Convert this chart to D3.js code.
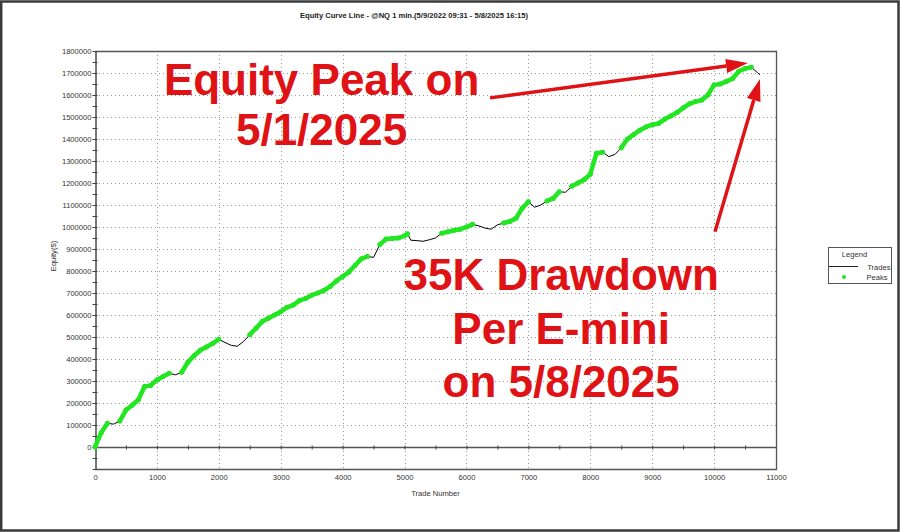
<!DOCTYPE html>
<html>
<head>
<meta charset="utf-8">
<script src="https://cdn.jsdelivr.net/npm/d3@7"></script>
<style>
  body { margin: 0; background: #fff; }
  text { font-family: "Liberation Sans", Arial, sans-serif; }
</style>
</head>
<body>
<script>
// equity curve (trade number, equity $)
var tradeNum = [0, 100, 200, 300, 400, 500, 600, 700, 800, 900,
  1000, 1100, 1200, 1300, 1400, 1500, 1600, 1700, 1800, 1900,
  2000, 2100, 2200, 2300, 2400, 2500, 2600, 2700, 2800, 2900,
  3000, 3100, 3200, 3300, 3400, 3500, 3600, 3700, 3800, 3900,
  4000, 4100, 4200, 4300, 4400, 4500, 4600, 4700, 4800, 4900,
  5000, 5050, 5100, 5200, 5300, 5400, 5500, 5600, 5700, 5800, 5900,
  6000, 6100, 6200, 6300, 6400, 6500, 6600, 6700, 6800, 6900,
  7000, 7100, 7200, 7300, 7400, 7500, 7600, 7700, 7800, 7900,
  8000, 8100, 8200, 8300, 8400, 8500, 8600, 8700, 8800, 8900,
  9000, 9100, 9200, 9300, 9400, 9500, 9600, 9700, 9800, 9900,
  10000, 10100, 10200, 10300, 10400, 10500, 10600, 10700, 10740];
var equity = [0, 65000, 108000, 104000, 118000, 168000, 190000, 215000, 275000, 280000,
  305000, 320000, 335000, 328000, 340000, 385000, 415000, 440000, 455000, 470000,
  490000, 475000, 462000, 458000, 480000, 510000, 540000, 570000, 585000, 600000,
  615000, 635000, 645000, 665000, 675000, 690000, 700000, 712000, 730000, 755000,
  775000, 795000, 825000, 855000, 866000, 862000, 920000, 945000, 948000, 950000,
  960000, 969000, 940000, 938000, 935000, 942000, 950000, 972000, 978000, 985000, 990000,
  1000000, 1012000, 1005000, 995000, 990000, 1010000, 1018000, 1025000, 1040000, 1085000,
  1115000, 1090000, 1100000, 1118000, 1130000, 1160000, 1158000, 1185000, 1200000, 1215000,
  1240000, 1335000, 1340000, 1320000, 1330000, 1360000, 1400000, 1420000, 1440000, 1455000,
  1465000, 1470000, 1490000, 1505000, 1520000, 1541000, 1560000, 1570000, 1577000, 1600000,
  1646000, 1650000, 1662000, 1675000, 1708000, 1720000, 1726000, 1702000, 1691000];

var xTicks = [0, 1000, 2000, 3000, 4000, 5000, 6000, 7000, 8000, 9000, 10000, 11000];
var yTicks = [0, 100000, 200000, 300000, 400000, 500000, 600000, 700000, 800000, 900000,
  1000000, 1100000, 1200000, 1300000, 1400000, 1500000, 1600000, 1700000, 1800000];

var titleText = "Equity Curve Line - @NQ 1 min.(5/9/2022 09:31 - 5/8/2025 16:15)";
var peakNote = ["Equity Peak on", "5/1/2025"];
var ddNote = ["35K Drawdown", "Per E-mini", "on 5/8/2025"];

var W = 900, H = 532;
var m = {left: 95, right: 776, top: 51, bottom: 469};
var red = "#df1216", green = "#22e622";

var x = d3.scaleLinear().domain([0, 11000]).range([m.left, m.right]);
var y = d3.scaleLinear().domain([-100000, 1800000]).range([m.bottom, m.top]);

var svg = d3.select("body").append("svg")
  .attr("width", W)
  .attr("height", H);

svg.append("rect")
  .attr("x", 1.2).attr("y", 1.5)
  .attr("width", W - 2.7).attr("height", H - 3)
  .attr("fill", "#fff")
  .attr("stroke", "#3a3a3a")
  .attr("stroke-width", 2.5);

svg.append("text")
  .attr("x", 414).attr("y", 18)
  .attr("text-anchor", "middle")
  .attr("font-size", 7.6)
  .attr("font-weight", "bold")
  .attr("fill", "#222")
  .text(titleText);

// dotted grid
var grid = svg.append("g")
  .attr("stroke", "#9a9a9a")
  .attr("stroke-dasharray", "1,3")
  .attr("stroke-width", 1);
grid.selectAll(".gy").data(yTicks.slice(1, -1)).enter().append("line")
  .attr("x1", m.left).attr("x2", m.right)
  .attr("y1", function(d) { return Math.round(y(d)) + 0.5; })
  .attr("y2", function(d) { return Math.round(y(d)) + 0.5; });
grid.selectAll(".gx").data(xTicks.slice(1, -1)).enter().append("line")
  .attr("y1", m.top).attr("y2", m.bottom)
  .attr("x1", function(d) { return Math.round(x(d)) + 0.5; })
  .attr("x2", function(d) { return Math.round(x(d)) + 0.5; });

// frame
svg.append("path")
  .attr("d", "M" + m.left + "," + (m.top + 0.5) + "H" + (m.right + 0.5) + "V" + (m.bottom + 0.5) + "H" + m.left)
  .attr("fill", "none")
  .attr("stroke", "#555")
  .attr("stroke-width", 1.3);

// zero line
svg.append("line")
  .attr("x1", m.left).attr("x2", m.right)
  .attr("y1", Math.round(y(0)) + 0.5).attr("y2", Math.round(y(0)) + 0.5)
  .attr("stroke", "#555").attr("stroke-width", 1.3);

// left axis
var yAxis = d3.axisLeft(y)
  .tickValues(d3.range(-100000, 1800001, 50000))
  .tickSizeInner(3).tickSizeOuter(0)
  .tickFormat(function(d) { return yTicks.indexOf(d) >= 0 ? d3.format("d")(d) : ""; });
var gy = svg.append("g")
  .attr("transform", "translate(" + (m.left + 0.5) + ",0)")
  .call(yAxis);
gy.select(".domain").attr("stroke", "#555").attr("stroke-width", 1.6);
gy.selectAll(".tick line").attr("stroke", "#444").attr("x2", -3).attr("x1", 2);
gy.selectAll(".tick text")
  .attr("font-family", "Liberation Sans, Arial, sans-serif")
  .attr("font-size", 7.6).attr("fill", "#333").attr("x", -4);

// minor x ticks on the zero line
var gx0 = svg.append("g")
  .attr("transform", "translate(0," + (Math.round(y(0)) + 0.5) + ")")
  .call(d3.axisBottom(x).tickValues(d3.range(500, 10501, 500)).tickSize(0).tickFormat(""));
gx0.select(".domain").remove();
gx0.selectAll(".tick line").attr("y1", -2).attr("y2", 2).attr("stroke", "#444");

// x labels
var gx = svg.append("g")
  .attr("transform", "translate(0," + m.bottom + ")")
  .call(d3.axisBottom(x).tickValues(xTicks).tickSize(0).tickPadding(6).tickFormat(d3.format("d")));
gx.select(".domain").remove();
gx.selectAll(".tick text")
  .attr("font-family", "Liberation Sans, Arial, sans-serif")
  .attr("font-size", 7.6).attr("fill", "#333");

svg.append("text")
  .attr("x", (m.left + m.right) / 2).attr("y", 496)
  .attr("text-anchor", "middle")
  .attr("font-size", 7.6).attr("fill", "#333")
  .text("Trade Number");

svg.append("text")
  .attr("transform", "translate(56," + ((m.top + m.bottom) / 2 - 4) + ") rotate(-90)")
  .attr("text-anchor", "middle")
  .attr("font-size", 7.6).attr("fill", "#333")
  .text("Equity($)");

// data
var data = tradeNum.map(function(t, i) { return {t: t, v: equity[i], i: i}; });
var runMax = -Infinity;
data.forEach(function(d) {
  d.peak = d.v >= runMax;
  if (d.peak) runMax = d.v;
});

var line = d3.line()
  .x(function(d) { return x(d.t); })
  .y(function(d) { return y(d.v); });

svg.append("path")
  .datum(data)
  .attr("d", line)
  .attr("stroke", "#000")
  .attr("stroke-width", 1)
  .attr("fill", "none");

// peaks: thick green runs between consecutive new highs, drawn over the trades line
var runs = [];
data.forEach(function(d, i) {
  if (d.peak && i > 0 && data[i - 1].peak) runs.push([data[i - 1], d]);
});
svg.append("g").selectAll("path").data(runs).enter().append("path")
  .attr("d", line)
  .attr("stroke", green)
  .attr("stroke-width", 4.5)
  .attr("stroke-linecap", "round")
  .attr("fill", "none");
svg.append("g").selectAll("circle").data(data.filter(function(d) { return d.peak; })).enter().append("circle")
  .attr("cx", function(d) { return x(d.t); })
  .attr("cy", function(d) { return y(d.v); })
  .attr("r", 2.5)
  .attr("fill", green);

// legend
var lg = svg.append("g");
lg.append("rect")
  .attr("x", 828.5).attr("y", 247.5).attr("width", 63).attr("height", 36)
  .attr("fill", "#fff").attr("stroke", "#555").attr("stroke-width", 1);
lg.append("text").attr("x", 854.5).attr("y", 257)
  .attr("text-anchor", "middle").attr("font-size", 7.6).attr("fill", "#333").text("Legend");
lg.append("line").attr("x1", 829).attr("x2", 858).attr("y1", 266.5).attr("y2", 266.5)
  .attr("stroke", "#222").attr("stroke-width", 1);
lg.append("text").attr("x", 890.5).attr("y", 269.5)
  .attr("text-anchor", "end").attr("font-size", 7.6).attr("fill", "#333").text("Trades");
lg.append("circle").attr("cx", 844).attr("cy", 277).attr("r", 2).attr("fill", green);
lg.append("text").attr("x", 887.5).attr("y", 280)
  .attr("text-anchor", "end").attr("font-size", 7.6).attr("fill", "#333").text("Peaks");

// annotations, anchored in data space
var notes = svg.append("g")
  .attr("fill", red)
  .attr("font-size", 44)
  .attr("font-weight", "bold")
  .attr("text-anchor", "middle");
notes.selectAll(".pk").data(peakNote).enter().append("text")
  .attr("x", x(3660))
  .attr("y", function(d, i) { return y(1600000) + i * 50; })
  .text(function(d) { return d; });
notes.selectAll(".dd").data(ddNote).enter().append("text")
  .attr("x", x(7530))
  .attr("y", function(d, i) { return y(712000) + i * 53.5; })
  .text(function(d) { return d; });

var arrows = [
  {from: [6380, 1587000], to: [10548, 1745000]},
  {from: [10015, 979000], to: [10741, 1673000]}
];
arrows.forEach(function(a) {
  var x0 = x(a.from[0]), y0 = y(a.from[1]), x1 = x(a.to[0]), y1 = y(a.to[1]);
  var ang = Math.atan2(y1 - y0, x1 - x0);
  var hl = 22, hw = 7;
  var bx = x1 - hl * Math.cos(ang), by = y1 - hl * Math.sin(ang);
  svg.append("line")
    .attr("x1", x0).attr("y1", y0).attr("x2", bx).attr("y2", by)
    .attr("stroke", red).attr("stroke-width", 3.5);
  svg.append("path")
    .attr("d", d3.line()([
      [x1, y1],
      [bx + hw * Math.sin(ang), by - hw * Math.cos(ang)],
      [bx - hw * Math.sin(ang), by + hw * Math.cos(ang)]
    ]) + "Z")
    .attr("fill", red);
});
</script>
</body>
</html>
